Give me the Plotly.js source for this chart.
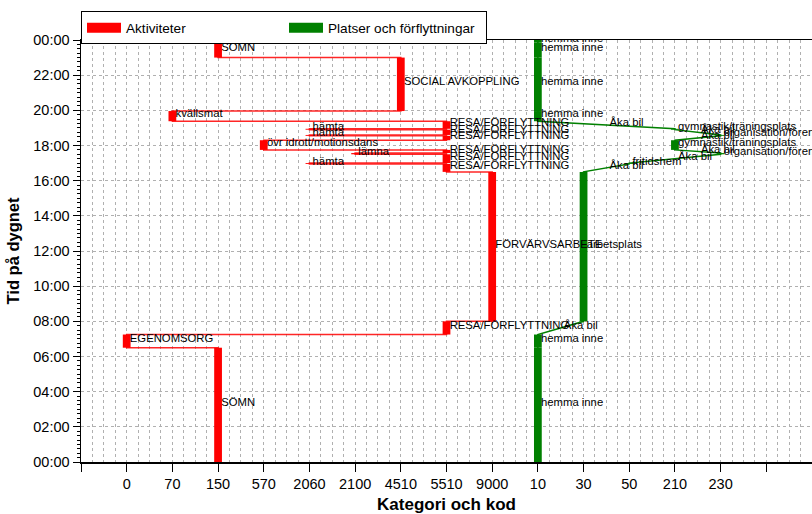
<!DOCTYPE html>
<html>
<head>
<meta charset="utf-8">
<script src="https://cdn.plot.ly/plotly-3.0.1.min.js"></script>
<style>html,body{margin:0;padding:0;background:#fff;}#chart{width:812px;height:514px;}</style>
</head>
<body>
<div id="chart"></div>
<script>
// Category codes along the x axis
const actCodes = ['0', '70', '150', '570', '2060', '2100', '4510', '5510', '9000'];
const placeCodes = ['10', '30', '50', '210', '230'];

// Activities (red), hours of the day
const actCode  = ['150', '0', '5510', '9000', '5510', '2060', '5510', '2100', '5510', '570', '5510', '2060', '5510', '2060', '5510', '70', '4510', '150', '150'];
const actStart = [0, 6.5, 7.25, 8.0, 16.5, 16.95, 17.0, 17.5, 17.57, 17.75, 18.3, 18.55, 18.6, 18.9, 18.95, 19.38, 19.96, 23.0, 23.85];
const actEnd   = [6.5, 7.25, 8.0, 16.5, 16.95, 17.0, 17.5, 17.57, 17.75, 18.3, 18.55, 18.6, 18.9, 18.95, 19.38, 19.96, 23.0, 23.85, 24];
const actLabel = ['SÖMN', 'EGENOMSORG', 'RESA/FÖRFLYTTNING', 'FÖRVÄRVSARBETE', 'RESA/FÖRFLYTTNING', 'hämta',
  'RESA/FÖRFLYTTNING', 'lämna', 'RESA/FÖRFLYTTNING', 'övr idrott/motionsdans', 'RESA/FÖRFLYTTNING', 'hämta',
  'RESA/FÖRFLYTTNING', 'hämta', 'RESA/FÖRFLYTTNING', 'kvällsmat', 'SOCIAL AVKOPPLING', 'SÖMN', 'SÖMN'];

// Places (green)
const placeCode  = ['10', '10', '30', '50', '230', '210', '230', '210', '10', '10', '10', '10'];
const placeStart = [0, 6.5, 8.0, 16.95, 17.5, 17.75, 18.55, 18.9, 19.38, 19.96, 23.0, 23.85];
const placeEnd   = [6.5, 7.25, 16.5, 17.0, 17.57, 18.3, 18.6, 18.95, 19.96, 23.0, 23.85, 24];
const placeLabel = ['hemma inne', 'hemma inne', 'arbetsplats', 'fritidshem', 'organisation/föreningslokal',
  'gymnastik/träningsplats', 'organisation/föreningslokal', 'gymnastik/träningsplats',
  'hemma inne', 'hemma inne', 'hemma inne', 'hemma inne'];
// Movements between places (in order of the gaps between place visits)
const travelLabel = ['Åka bil', 'Åka bil', 'Åka bil', 'Åka bil', 'Åka bil', 'Åka bil', 'Åka bil'];

// Time tick labels
const timeTickVals = [0, 2, 4, 6, 8, 10, 12, 14, 16, 18, 20, 22, 24];
const timeTickText = ['00:00', '02:00', '04:00', '06:00', '08:00', '10:00', '12:00', '14:00', '16:00', '18:00', '20:00', '22:00', '00:00'];

const RED = '#ff0000', GREEN = '#008000';
const xTickText = [''].concat(actCodes, placeCodes, ['', '']);
const xTickVals = xTickText.map((_, i) => i);
const aPos = c => 1 + actCodes.indexOf(c);
const pPos = c => 1 + actCodes.length + placeCodes.indexOf(c);

const ax = actCode.map(aPos);
const px = placeCode.map(pPos);

// red step path
const redX = [], redY = [];
ax.forEach((x, i) => { redX.push(x, x); redY.push(actStart[i], actEnd[i]); });
// green path with diagonal movements
const grX = [], grY = [];
px.forEach((x, i) => { grX.push(x, x); grY.push(placeStart[i], placeEnd[i]); });
const tX = [], tY = [];
for (let i = 0; i + 1 < px.length; i++) {
  if (placeStart[i + 1] > placeEnd[i]) {
    tX.push((px[i] + px[i + 1]) / 2);
    tY.push((placeEnd[i] + placeStart[i + 1]) / 2);
  }
}

const barW = 0.17;
const lblFont = {family: 'Liberation Sans, Arial', size: 11.3, color: '#000'};
const pad = '\u00a0';
const traces = [
  {type: 'scatter', mode: 'lines', x: redX, y: redY, line: {color: 'rgba(255,0,0,0.85)', width: 1.5}, showlegend: false, hoverinfo: 'skip'},
  {type: 'scatter', mode: 'lines', x: grX, y: grY, line: {color: GREEN, width: 1.5}, showlegend: false, hoverinfo: 'skip'},
  {type: 'bar', x: ax, base: actStart, y: actEnd.map((e, i) => e - actStart[i]), width: barW,
   marker: {color: RED, line: {width: 0}}, showlegend: false, hoverinfo: 'skip'},
  {type: 'bar', x: px, base: placeStart, y: placeEnd.map((e, i) => e - placeStart[i]), width: barW,
   marker: {color: GREEN, line: {width: 0}}, showlegend: false, hoverinfo: 'skip'},
  {type: 'scatter', mode: 'text', x: ax, y: actStart.map((s, i) => (s + actEnd[i]) / 2 + 0.1), text: actLabel,
   texttemplate: pad + '%{text}', textposition: 'middle right', textfont: lblFont, showlegend: false, hoverinfo: 'skip', cliponaxis: true},
  {type: 'scatter', mode: 'text', x: px, y: placeStart.map((s, i) => (s + placeEnd[i]) / 2 + 0.1), text: placeLabel,
   texttemplate: pad + '%{text}', textposition: 'middle right', textfont: lblFont, showlegend: false, hoverinfo: 'skip', cliponaxis: true},
  {type: 'scatter', mode: 'text', x: tX, y: tY.map(v => v + 0.1), text: travelLabel,
   texttemplate: pad + '%{text}', textposition: 'middle right', textfont: lblFont, showlegend: false, hoverinfo: 'skip', cliponaxis: true},
  // legend entries
  {type: 'scatter', mode: 'lines', x: [null], y: [null], name: 'Aktiviteter', line: {color: RED, width: 10}},
  {type: 'scatter', mode: 'lines', x: [null], y: [null], name: 'Platser och förflyttningar', line: {color: GREEN, width: 10}}
];

const layout = {
  width: 812, height: 514,
  margin: {l: 81, r: 0, t: 40, b: 52},
  paper_bgcolor: '#fff', plot_bgcolor: '#fff',
  font: {family: 'Liberation Sans, Arial, sans-serif', size: 14, color: '#000'},
  barmode: 'overlay',
  showlegend: true,
  legend: {orientation: 'h', x: 0, xanchor: 'left', y: 1.068, yanchor: 'top',
    bgcolor: '#fff', bordercolor: '#000', borderwidth: 1,
    entrywidth: 153, entrywidthmode: 'pixels',
    font: {size: 13.6}, itemwidth: 34, tracegroupgap: 0},
  xaxis: {
    range: [0, 16], tickmode: 'array', tickvals: xTickVals, ticktext: xTickText,
    ticks: 'outside', ticklen: 8, tickcolor: '#000', tickwidth: 1,
    showline: true, linecolor: '#000', linewidth: 1.5, mirror: true,
    showgrid: true, gridcolor: '#b0b0b0', griddash: 'dot', gridwidth: 1,
    minor: {dtick: 0.25, tick0: 0, showgrid: true, gridcolor: '#b0b0b0', griddash: 'dot', gridwidth: 1, ticks: ''},
    zeroline: false, fixedrange: true,
    tickfont: {size: 14.5},
    title: {text: '<b>Kategori och kod</b>', font: {size: 17}, standoff: 13}
  },
  yaxis: {
    range: [0, 24], tickmode: 'array', tickvals: timeTickVals, ticktext: timeTickText,
    ticks: 'outside', ticklen: 7, tickcolor: '#000', tickwidth: 1,
    showline: true, linecolor: '#000', linewidth: 1.5,
    showgrid: true, gridcolor: '#b0b0b0', griddash: 'dot', gridwidth: 1,
    minor: {dtick: 0.25, tick0: 0, ticks: 'outside', ticklen: 3, tickcolor: '#000', showgrid: false},
    zeroline: false, fixedrange: true,
    tickfont: {size: 14.5},
    title: {text: '<b>Tid på dygnet</b>', font: {size: 16.5}, standoff: 9}
  }
};

Plotly.newPlot('chart', traces, layout, {displayModeBar: false, staticPlot: true});
</script>
</body>
</html>
